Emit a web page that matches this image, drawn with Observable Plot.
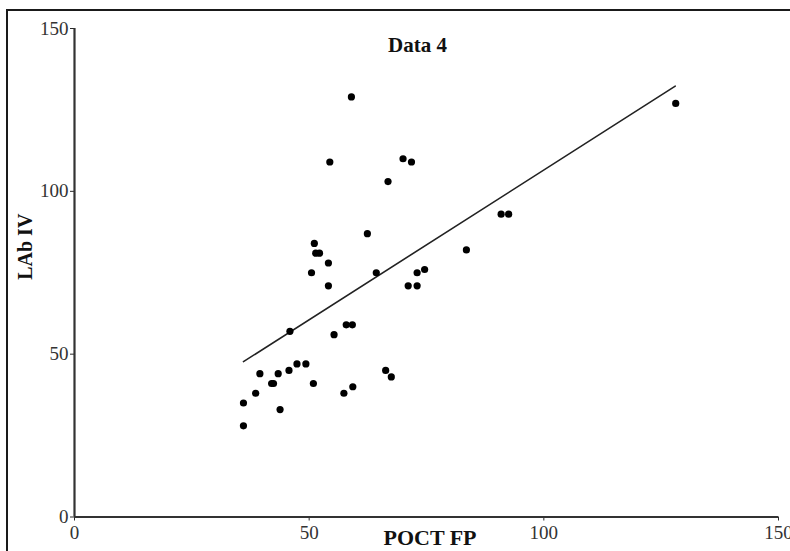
<!DOCTYPE html>
<html><head><meta charset="utf-8">
<script src="https://cdn.jsdelivr.net/npm/d3@7"></script>
<script src="https://cdn.jsdelivr.net/npm/@observablehq/plot@0.6"></script>
<style>
html,body{margin:0;padding:0;background:#fff;overflow:hidden;}
#wrap{position:relative;width:790px;height:551px;overflow:hidden;}
#frame{position:absolute;left:6px;top:9px;width:830px;height:620px;border:2px solid #1a1a1a;box-sizing:border-box;pointer-events:none;}
#chart{position:absolute;left:0;top:0;}
</style></head><body>
<div id="wrap"><div id="chart"></div><div id="frame"></div></div>
<script>
// POCT FP (x) and LAb IV (y) values
const pocX = [36, 36, 38.6, 39.5, 42, 42.4, 43.4, 43.8, 45.7, 45.9, 47.4, 49.3, 50.9, 50.5, 51.1, 51.4, 52.2, 54.1, 54.1, 54.4, 55.3, 57.4, 57.9, 59.2, 59.0, 59.3, 62.4, 64.3, 66.3, 67.5, 66.8, 70.0, 71.8, 71.1, 73.0, 73.0, 74.6, 83.5, 90.9, 92.5, 128.1];
const labY = [28, 35, 38, 44, 41, 41, 44, 33, 45, 57, 47, 47, 41, 75, 84, 81, 81, 78, 71, 109, 56, 38, 59, 59, 129, 40, 87, 75, 45, 43, 103, 110, 109, 71, 71, 75, 76, 82, 93, 93, 127];
// fitted line end points
const fitX = [36, 128];
const fitY = [47.7, 132.3];
const xTicks = [0, 50, 100, 150];
const yTicks = [0, 50, 100, 150];
const titleText = "Data 4";
const xLabel = "POCT FP";
const yLabel = "LAb IV";

const points = pocX.map((x, i) => ({x, y: labY[i]}));
const fit = fitX.map((x, i) => ({x, y: fitY[i]}));
const serif = "'Liberation Serif', 'DejaVu Serif', serif";

const plot = Plot.plot({
  width: 790, height: 551,
  marginLeft: 74, marginRight: 12, marginTop: 28, marginBottom: 34.5,
  style: {fontFamily: serif, color: "#2a2a2a", background: "transparent", overflow: "visible"},
  x: {domain: [0, 150]},
  y: {domain: [0, 150]},
  marks: [
    Plot.axisX({ticks: xTicks, tickSize: 4, tickPadding: 4, fontSize: 19, fill: "#333", label: null, tickFormat: d => String(d)}),
    Plot.axisY({ticks: yTicks, tickSize: 4, tickPadding: 2, fontSize: 19, fill: "#333", label: null, tickFormat: d => String(d)}),
    Plot.ruleX([0], {stroke: "#333", strokeWidth: 2.2}),
    Plot.ruleY([0], {stroke: "#333", strokeWidth: 2.2}),
    Plot.line(fit, {x: "x", y: "y", stroke: "#222", strokeWidth: 1.6}),
    Plot.dot(points, {x: "x", y: "y", r: 3.6, fill: "#000", stroke: "none"}),
    Plot.text([titleText], {frameAnchor: "top", lineAnchor: "middle", textAnchor: "middle", text: d => d, dx: -9, dy: 16.5, fontWeight: "bold", fontSize: 21, fill: "#111"}),
    Plot.text([xLabel], {frameAnchor: "bottom", lineAnchor: "middle", textAnchor: "middle", text: d => d, dx: 3.5, dy: 21, fontWeight: "bold", fontSize: 22, fill: "#111"}),
    Plot.text([yLabel], {frameAnchor: "left", lineAnchor: "middle", textAnchor: "middle", text: d => d, rotate: -90, dx: -49, dy: -26, fontWeight: "bold", fontSize: 20, fill: "#111"})
  ]
});
document.getElementById("chart").appendChild(plot);
</script>
</body></html>
